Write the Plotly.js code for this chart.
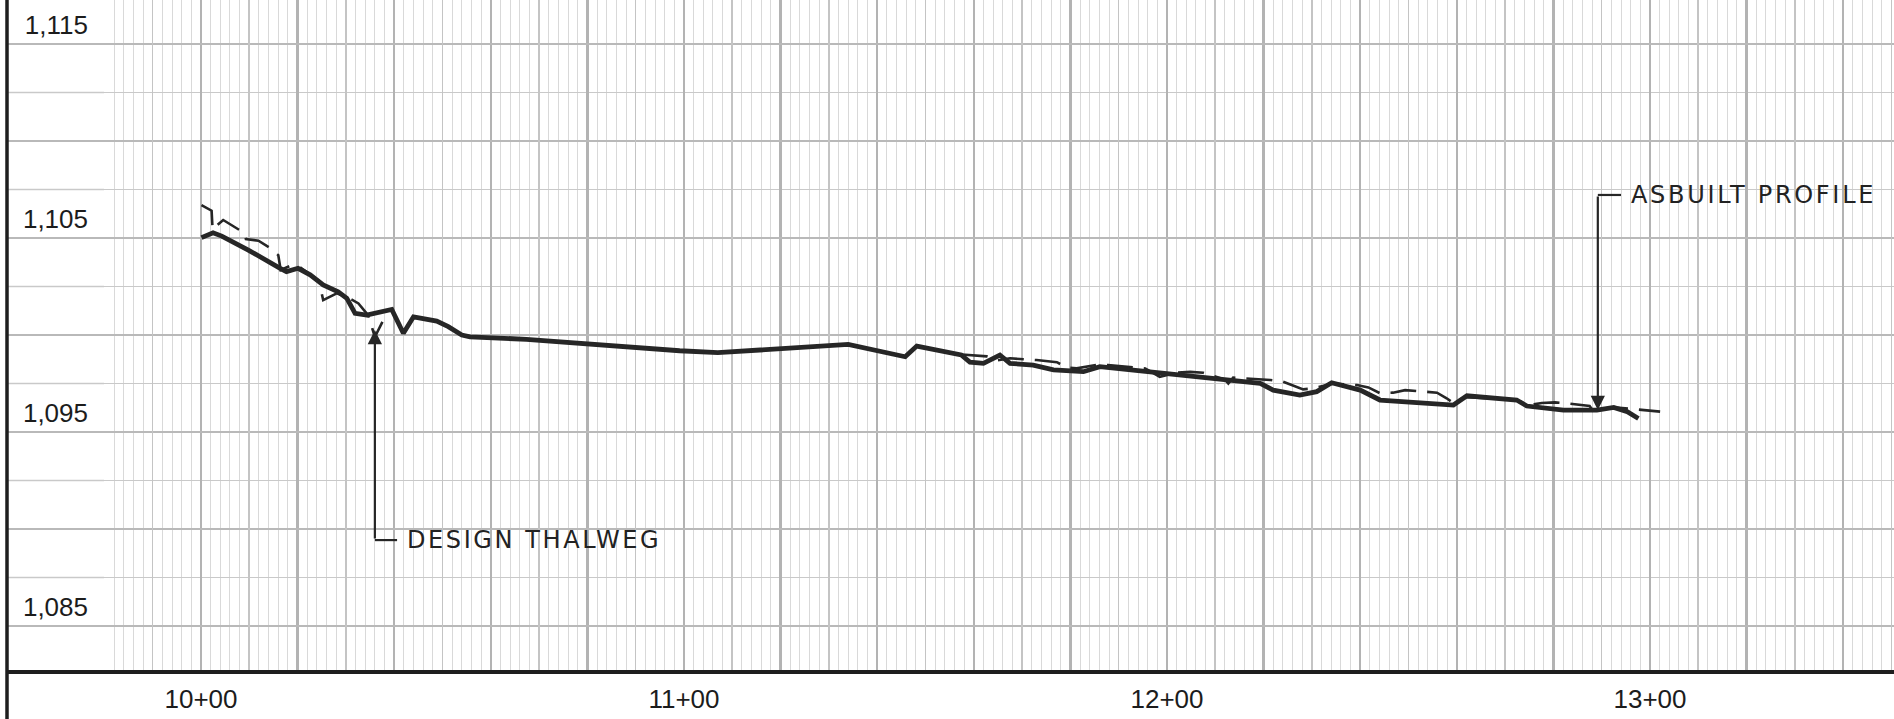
<!DOCTYPE html>
<html>
<head>
<meta charset="utf-8">
<script src="https://cdn.plot.ly/plotly-3.0.1.min.js"></script>
<style>
  html, body { margin: 0; padding: 0; background: #ffffff; }
  #chart { width: 1894px; height: 719px; }
</style>
</head>
<body>
<div id="chart"></div>
<script>
// ---- Data (stations in ft, elevations in ft) ----
const asbuiltStation = [1000.1, 1002.5, 1004.3, 1009.8, 1016.4, 1017.7, 1020.1, 1022.6, 1025.3, 1028.4,
  1030.2, 1031.9, 1034.3, 1037.1, 1039.5, 1041.9, 1044.0, 1048.8, 1051.2, 1054.0,
  1055.7, 1067.4, 1083.2, 1099.1, 1107.0, 1118.9, 1134.0, 1145.8, 1148.2, 1157.4,
  1159.2, 1162.0, 1165.4, 1167.5, 1172.3, 1176.5, 1182.7, 1186.1, 1193.0, 1199.9,
  1206.8, 1213.7, 1219.3, 1222.0, 1227.5, 1231.0, 1234.1, 1240.0, 1244.1, 1259.3,
  1262.1, 1272.4, 1274.5, 1282.1, 1289.0, 1292.5, 1295.3, 1297.6];
const asbuiltElev = [1105.02, 1105.27, 1105.10, 1104.38, 1103.44, 1103.27, 1103.44, 1103.10, 1102.58, 1102.23,
  1101.89, 1101.12, 1101.03, 1101.20, 1101.32, 1100.09, 1100.94, 1100.72, 1100.43, 1100.00,
  1099.91, 1099.78, 1099.48, 1099.19, 1099.09, 1099.26, 1099.52, 1098.88, 1099.43, 1098.97,
  1098.60, 1098.54, 1098.97, 1098.54, 1098.45, 1098.20, 1098.11, 1098.37, 1098.20, 1098.02,
  1097.85, 1097.70, 1097.51, 1097.16, 1096.90, 1097.08, 1097.54, 1097.16, 1096.65, 1096.39,
  1096.87, 1096.65, 1096.34, 1096.13, 1096.13, 1096.27, 1096.05, 1095.70];

const designStation = [1000.1, 1002.2, 1002.4, 1004.6, 1008.9, 1009.3, 1011.9, 1014.1, 1016.0, 1016.5,
  1018.4, 1020.5, 1024.4, 1025.3, 1028.1, 1030.3, 1032.6, 1034.6, 1036.0, 1037.7,
  null,
  1157.5, 1162.7, 1165.0, 1167.5, 1170.6, 1173.0, 1177.2, 1179.2, 1181.3, 1186.1,
  1187.8, 1190.3, 1195.5, 1198.5, 1202.0, 1204.8, 1207.5, 1212.0, 1212.7, 1213.7,
  1221.4, 1224.0, 1228.2, 1230.3, 1234.4, 1239.3, 1241.7, 1244.1, 1246.8, 1249.3,
  1255.9, 1257.9, 1258.9, 1262.0, 1272.0, 1275.1, 1277.6, 1280.3, 1282.7, 1287.5,
  1288.6, 1290.0, 1292.5, 1297.0, 1299.3, 1302.1];
const designElev = [1106.70, 1106.41, 1105.45, 1105.93, 1105.27, 1104.95, 1104.86, 1104.52, 1104.12, 1103.35,
  1103.56, 1103.50, 1102.80, 1101.80, 1102.15, 1101.95, 1101.63, 1101.03, 1099.90, 1100.74,
  null,
  1099.00, 1098.90, 1098.70, 1098.80, 1098.75, 1098.71, 1098.60, 1098.33, 1098.28, 1098.49,
  1098.45, 1098.40, 1098.28, 1097.85, 1098.06, 1098.10, 1098.06, 1097.70, 1097.50, 1097.80,
  1097.68, 1097.60, 1097.20, 1097.25, 1097.50, 1097.42, 1097.30, 1097.00, 1097.03, 1097.16,
  1097.03, 1096.74, 1096.56, 1096.80, 1096.68, 1096.39, 1096.50, 1096.53, 1096.48, 1096.34,
  1095.96, 1096.20, 1096.27, 1096.17, 1096.10, 1096.05];

// ---- Tick labels ----
const xTickVals = [1000, 1100, 1200, 1300];
const xTickText = ['10+00', '11+00', '12+00', '13+00'];
const yTickVals = [1085, 1095, 1105, 1115];
const yTickText = ['1,085', '1,095', '1,105', '1,115'];

// ---- Callouts ----
const callouts = [
  {label: 'DESIGN THALWEG', station: 1036.0, tipElev: 1100.26, cornerElev: 1089.43, textStation: 1042.2, spacing: 2.6},
  {label: 'ASBUILT PROFILE', station: 1289.2, tipElev: 1096.13, cornerElev: 1107.22, textStation: 1295.6, spacing: 2.7}
];

// ---- Axis ranges / grid spacing ----
const xRange = [979.92, 1350.52];
const yRange = [1082.63, 1117.27];

// heavy vertical grid every 20 ft; labels only at station values
const xMajorVals = [], xMajorText = [];
for (let v = 980; v <= 1350; v += 20) {
  xMajorVals.push(v);
  const i = xTickVals.indexOf(v);
  xMajorText.push(i >= 0 ? xTickText[i] : '');
}
// horizontal grid every 5 ft; labels every 10 ft
const yMajorVals = [], yMajorText = [];
for (let v = 1085; v <= 1115; v += 5) {
  yMajorVals.push(v);
  const i = yTickVals.indexOf(v);
  yMajorText.push(i >= 0 ? yTickText[i] : '');
}

const ink = '#262626';
const tickFont = {family: '"Liberation Sans", Arial, sans-serif', size: 26, color: '#1c1c1c'};
const labelFont = {family: '"DejaVu Sans", sans-serif', size: 24, color: '#222222'};

const traces = [
  {x: [], y: [], xaxis: 'x2', yaxis: 'y', type: 'scatter', mode: 'lines', showlegend: false, hoverinfo: 'skip'},
  {x: designStation, y: designElev, type: 'scatter', mode: 'lines', connectgaps: false,
   line: {color: ink, width: 2.6, dash: '26px,11px'}, showlegend: false, name: 'Design Thalweg'},
  {x: asbuiltStation, y: asbuiltElev, type: 'scatter', mode: 'lines',
   line: {color: ink, width: 4.8}, showlegend: false, name: 'Asbuilt Profile'}
];

const shapes = [];
const annotations = [];
// horizontal grid lines continue through the label column
const leftEdge = -97 / 1790;
for (let v = 1082.5; v <= 1117; v += 2.5) {
  const heavy = Math.abs((v - 1085) % 5) < 1e-6;
  shapes.push({type: 'line', xref: 'paper', yref: 'y', x0: leftEdge, x1: 0, y0: v, y1: v,
    line: {color: heavy ? '#b9b9b9' : '#c9c9c9', width: heavy ? 2 : 1.5}, layer: 'below'});
}
// frame lines
shapes.push({type: 'line', xref: 'paper', yref: 'paper', x0: leftEdge, x1: leftEdge, y0: -0.08, y1: 1.01,
  line: {color: '#1e1e1e', width: 3.5}});
shapes.push({type: 'line', xref: 'paper', yref: 'paper', x0: leftEdge, x1: 1.01, y0: 0, y1: 0,
  line: {color: '#1e1e1e', width: 4}});

callouts.forEach(c => {
  const leaderEnd = c.textStation - 1.6;
  shapes.push({type: 'line', xref: 'x', yref: 'y', x0: c.station, x1: leaderEnd, y0: c.cornerElev, y1: c.cornerElev,
    line: {color: ink, width: 2.2}});
  annotations.push({x: c.station, y: c.tipElev, ax: c.station, ay: c.cornerElev, axref: 'x', ayref: 'y',
    xref: 'x', yref: 'y', text: '', showarrow: true, arrowhead: 2, arrowsize: 1.3, arrowwidth: 2.2,
    arrowcolor: ink, standoff: 0, startstandoff: 0});
  annotations.push({x: c.textStation, y: c.cornerElev, xref: 'x', yref: 'y',
    text: '<span style="letter-spacing:' + c.spacing + 'px">' + c.label + '</span>', showarrow: false,
    xanchor: 'left', yanchor: 'middle', font: labelFont});
});

const layout = {
  width: 1894, height: 719,
  margin: {l: 104, r: 0, t: 0, b: 47, pad: 0},
  paper_bgcolor: '#ffffff', plot_bgcolor: '#ffffff',
  showlegend: false,
  xaxis: {
    range: xRange, tickmode: 'array', tickvals: xMajorVals, ticktext: xMajorText,
    showgrid: true, gridcolor: '#b3b3b3', gridwidth: 2.5,
    minor: {tickmode: 'linear', tick0: 980, dtick: 2, showgrid: true, gridcolor: '#d9d9d9', gridwidth: 1, ticks: ''},
    ticks: '', showline: false, zeroline: false, tickfont: tickFont, ticklabelstandoff: 9,
    fixedrange: true
  },
  xaxis2: {
    range: xRange, overlaying: 'x', anchor: 'y', side: 'bottom', tickmode: 'linear', tick0: 990, dtick: 20,
    showgrid: true, gridcolor: '#c4c4c4', gridwidth: 1.6, showticklabels: false, ticks: '',
    showline: false, zeroline: false, fixedrange: true
  },
  yaxis: {
    range: yRange, tickmode: 'array', tickvals: yMajorVals, ticktext: yMajorText,
    showgrid: true, gridcolor: '#b9b9b9', gridwidth: 2,
    minor: {tickmode: 'linear', tick0: 1082.5, dtick: 2.5, showgrid: true, gridcolor: '#c9c9c9', gridwidth: 1.5, ticks: ''},
    ticks: '', showline: false, zeroline: false, tickfont: tickFont,
    ticklabelstandoff: 15, ticklabelshift: -19, fixedrange: true
  },
  shapes: shapes,
  annotations: annotations
};

Plotly.newPlot('chart', traces, layout, {staticPlot: true, displayModeBar: false});
</script>
</body>
</html>
